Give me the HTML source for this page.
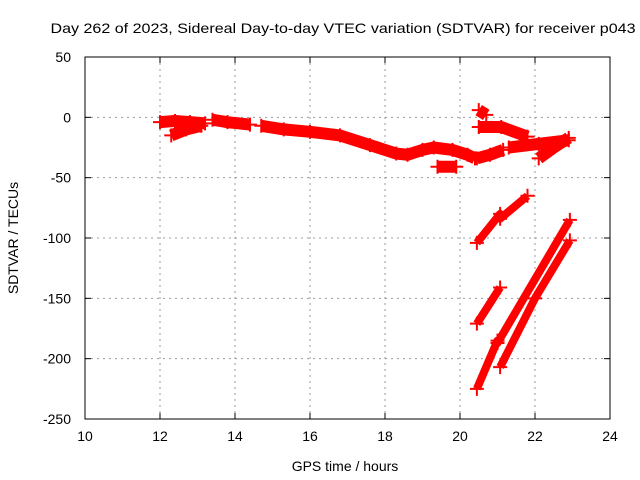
<!DOCTYPE html>
<html><head><meta charset="utf-8"><style>
body{margin:0;background:#fff;}
svg{display:block;font-family:"Liberation Sans",sans-serif;}
</style></head><body>
<svg id="chart" width="640" height="480">
<text x="343" y="33" font-size="14" text-anchor="middle" textLength="585" lengthAdjust="spacingAndGlyphs">Day 262 of 2023, Sidereal Day-to-day VTEC variation (SDTVAR) for receiver p043</text>
<text x="345" y="471" font-size="14" text-anchor="middle">GPS time / hours</text>
<text transform="translate(18,238) rotate(-90)" font-size="14" text-anchor="middle">SDTVAR / TECUs</text>
<g id="grid"></g><g id="marks"></g>
<rect x="85" y="57" width="525" height="362" fill="none" stroke="#000" stroke-width="1"/>
<g id="ticks"></g>
</svg>
<script>
const xTicks=[10,12,14,16,18,20,22,24];
const yTicks=[50,0,-50,-100,-150,-200,-250];
const seriesA=[[12.0,-4],[12.4,-3],[12.8,-4],[13.2,-5]];
const seriesA2=[[12.3,-15],[12.7,-10],[13.1,-7]];
const seriesB=[[13.4,-2],[13.8,-4],[14.4,-6]];
const seriesC=[[14.7,-7],[15.3,-10],[16.0,-12],[16.8,-15],[17.6,-23],[18.3,-30],[18.6,-31],[19.0,-27],[19.3,-25],[19.8,-27],[20.2,-31],[20.4,-34]];
const seriesD=[[19.4,-41],[19.9,-41]];
const seriesE=[[20.45,-34],[20.8,-31],[21.15,-27]];
const seriesF=[[20.5,-8],[21.1,-8],[21.8,-16]];
const seriesG=[[20.5,6],[20.7,2]];
const seriesH=[[21.3,-25],[22.1,-22],[22.9,-19]];
const seriesI=[[22.1,-34],[22.5,-25],[22.9,-17]];
const seriesJ=[[20.45,-104],[21.07,-80],[21.07,-84],[21.8,-65]];
const seriesK=[[20.45,-171],[21.07,-141]];
const seriesL=[[20.45,-225],[21.0,-185],[21.0,-187],[22.93,-85]];
const seriesM=[[21.07,-207],[22.0,-150],[22.93,-102]];
const allSeries=[seriesA,seriesA2,seriesB,seriesC,seriesD,seriesE,seriesF,seriesG,seriesH,seriesI,seriesJ,seriesK,seriesL,seriesM];
const X=h=>85+(h-10)*37.5;
const Y=v=>57+(50-v)*362/300;
const NS="http://www.w3.org/2000/svg";
function mk(t,a,p){const e=document.createElementNS(NS,t);for(const k in a)e.setAttribute(k,a[k]);p.appendChild(e);return e;}
const grid=document.getElementById('grid'),ticks=document.getElementById('ticks'),marks=document.getElementById('marks');
xTicks.forEach(t=>{const x=X(t);
 if(t>10&&t<24){const g=mk('line',{x1:x,x2:x,y1:57,y2:419,stroke:'#999','stroke-dasharray':'2,4'},grid);
 
 }
 mk('line',{x1:x,x2:x,y1:419,y2:413,stroke:'#000'},ticks);mk('line',{x1:x,x2:x,y1:57,y2:63,stroke:'#000'},ticks);
 const l=mk('text',{x:x,y:441,'font-size':14,'text-anchor':'middle'},ticks);l.textContent=t;
 
 });
yTicks.forEach(t=>{const y=Y(t);
 if(t<50&&t>-250){const g=mk('line',{x1:85,x2:610,y1:y,y2:y,stroke:'#999','stroke-dasharray':'2,4'},grid);
 
 }
 mk('line',{x1:85,x2:91,y1:y,y2:y,stroke:'#000'},ticks);mk('line',{x1:610,x2:604,y1:y,y2:y,stroke:'#000'},ticks);
 const l=mk('text',{x:71,y:y+5,'font-size':14,'text-anchor':'end'},ticks);l.textContent=t;
 
 });
allSeries.forEach((s,i)=>{
 const w=(s===seriesJ||s===seriesK||s===seriesL||s===seriesM)?8:12;
 const pl=mk('polyline',{points:s.map(p=>X(p[0])+','+Y(p[1])).join(' '),fill:'none',stroke:'#f00','stroke-width':w,'stroke-linejoin':'round'},marks);
 
 
 s.forEach(p=>{const x=X(p[0]),y=Y(p[1]);
  mk('path',{d:`M${x-7},${y}H${x+7}M${x},${y-7}V${y+7}`,stroke:'#f00','stroke-width':2},marks);});
});
</script>
</body></html>
